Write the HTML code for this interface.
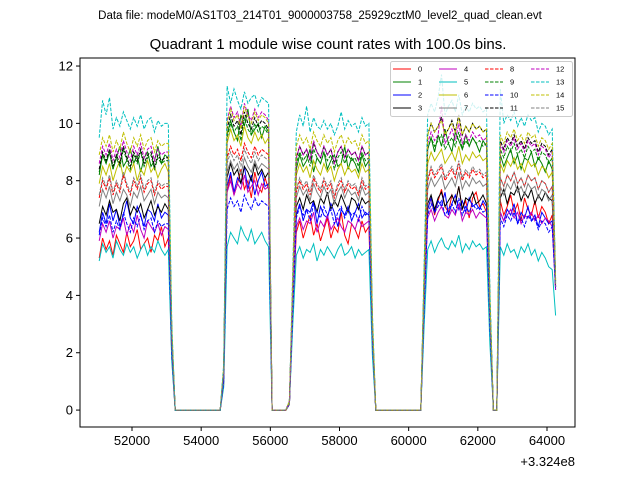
<!DOCTYPE html>
<html><head><meta charset="utf-8"><style>
body{margin:0;background:#fff;}
svg{display:block;font-family:"Liberation Sans","DejaVu Sans",sans-serif;}
</style></head><body>
<svg id="chart" width="640" height="480" xmlns="http://www.w3.org/2000/svg">
<text x="320" y="19" font-size="11.5" text-anchor="middle">Data file: modeM0/AS1T03_214T01_9000003758_25929cztM0_level2_quad_clean.evt</text>
<text x="328" y="49" font-size="15" text-anchor="middle">Quadrant 1 module wise count rates with 100.0s bins.</text>
<g id="plot"></g>
<text x="575" y="466" font-size="13" text-anchor="end">+3.324e8</text>
</svg>
<script>
const t0 = 51050, dt = 100;
const xTicks = [52000,54000,56000,58000,60000,62000,64000];
const yTicks = [0,2,4,6,8,10,12];
const names = ['0','1','2','3','4','5','6','7','8','9','10','11','12','13','14','15'];
const colors = ['#ff0000','#008000','#0000ff','#000000','#bf00bf','#00bfbf','#bfbf00','#808080','#ff0000','#008000','#0000ff','#000000','#bf00bf','#00bfbf','#bfbf00','#808080'];
const Z14 = [0,0,0,0,0,0,0,0,0,0,0,0,0,0];
const s0 = [5.3,6.0,5.6,5.9,5.4,6.1,5.8,5.5,6.2,5.7,5.9,6.3,5.6,5.8,6.0,5.5,6.1,5.9,6.4,5.7,6.0,1.8,...Z14,0.9,7.6,8.2,7.5,7.9,8.4,7.7,8.0,7.4,8.3,7.8,7.6,8.1,7.7,0,0,0,0,0,0.2,3.5,6.2,6.6,6.0,6.4,6.8,6.1,6.5,5.9,6.3,6.7,6.0,6.4,6.2,6.9,6.1,5.8,6.5,6.3,6.0,6.6,6.2,6.4,2.2,...Z14,3.8,7.0,7.4,6.8,7.3,7.7,7.1,6.9,7.5,7.2,7.8,7.0,7.3,6.7,7.4,7.6,7.1,7.2,6.9,3.0,0,0,7.3,6.8,7.1,7.5,6.9,7.2,6.6,7.4,7.0,6.8,7.3,6.7,7.1,6.9,6.5,6.8,4.2];
const s1 = [8.2,8.9,8.6,9.0,8.4,8.8,9.2,8.5,8.7,9.1,8.6,8.9,8.3,8.8,9.0,8.5,8.7,9.2,8.6,8.9,8.8,2.6,...Z14,1.4,9.6,10.1,9.7,9.4,10.3,9.9,10.5,9.6,9.8,10.0,9.5,9.9,9.7,0,0,0,0,0,0.3,4.2,8.4,8.9,8.5,8.7,9.1,8.3,8.8,8.6,9.0,8.4,8.7,8.9,8.5,8.6,9.2,8.4,8.8,8.6,8.3,8.9,8.5,8.7,2.9,...Z14,4.6,9.1,9.5,9.0,9.6,9.2,9.8,9.3,9.0,9.7,9.4,9.1,9.6,9.2,9.5,9.3,9.0,9.4,9.2,3.6,0,0,8.9,8.5,8.8,9.1,8.6,8.9,8.4,8.8,8.7,9.0,8.5,8.8,8.6,8.3,8.7,8.4,4.4];
const s2 = [6.2,6.9,6.5,7.2,6.6,7.0,6.4,6.8,7.3,6.7,6.5,7.1,6.8,6.4,7.0,6.9,6.6,7.2,6.7,6.9,6.8,2.1,...Z14,1.1,7.8,8.3,7.6,8.1,7.9,8.5,7.7,8.2,7.5,8.0,8.3,7.8,7.9,0,0,0,0,0,0.2,3.6,6.8,7.2,6.6,7.0,6.9,7.3,6.5,7.1,6.8,6.7,7.2,6.9,6.4,7.0,6.8,7.1,6.6,6.9,7.2,6.7,6.9,6.8,2.4,...Z14,3.9,7.0,7.4,6.9,7.3,7.1,7.6,6.8,7.2,7.5,7.0,7.3,6.9,7.4,7.1,7.2,7.0,7.3,7.1,3.0,0,0,6.9,6.6,7.0,6.8,7.2,6.5,6.9,6.7,7.1,6.6,6.8,6.4,6.9,6.7,6.5,6.6,4.3];
const s3 = [6.5,7.1,6.8,7.3,6.9,7.0,6.6,7.2,7.4,6.8,7.1,6.9,7.2,6.7,7.0,7.3,6.8,7.1,6.9,7.2,7.0,2.2,...Z14,1.2,8.1,8.6,8.2,8.4,7.9,8.5,8.3,8.0,8.6,8.2,8.4,8.1,8.3,0,0,0,0,0,0.2,3.8,7.1,7.4,7.0,7.5,7.2,7.3,6.9,7.4,7.2,7.6,7.0,7.3,7.1,7.5,7.2,6.9,7.4,7.3,7.0,7.4,7.2,7.3,2.5,...Z14,3.9,7.2,7.5,7.0,7.4,7.6,7.1,7.3,7.5,7.2,7.8,7.0,7.4,7.3,7.6,7.2,7.3,7.5,7.2,3.1,0,0,7.4,7.7,7.2,7.6,7.5,7.8,7.3,7.6,7.4,7.7,7.2,7.5,7.3,7.6,7.4,7.3,4.3];
const s4 = [5.9,6.5,6.2,6.6,6.0,6.4,6.3,6.7,6.1,6.5,6.2,6.8,6.3,6.0,6.6,6.4,6.2,6.5,6.1,6.4,6.3,2.0,...Z14,1.0,7.6,8.0,7.5,7.9,7.7,8.2,7.6,7.8,8.0,7.5,7.9,7.7,7.8,0,0,0,0,0,0.2,3.4,6.4,6.7,6.3,6.6,6.5,6.9,6.2,6.6,6.4,6.8,6.3,6.5,6.7,6.4,6.2,6.6,6.5,6.3,6.7,6.4,6.5,6.6,2.3,...Z14,3.6,6.7,7.0,6.6,6.9,7.1,6.8,6.7,7.0,6.8,7.2,6.6,6.9,6.8,7.0,6.7,6.9,6.8,6.7,2.9,0,0,6.9,6.6,6.8,7.0,6.7,6.9,6.5,6.8,6.7,6.9,6.6,6.8,6.5,6.7,6.6,6.4,4.2];
const s5 = [5.2,5.8,5.5,5.7,5.3,5.9,5.6,5.4,5.8,5.5,5.7,5.3,5.6,5.8,5.4,5.7,5.5,5.9,5.6,5.4,5.6,1.7,...Z14,0.8,5.7,6.2,6.0,5.8,6.4,6.1,5.9,6.3,5.8,6.0,6.2,5.9,5.7,0,0,0,0,0,0.2,3.0,5.4,5.7,5.3,5.6,5.5,5.8,5.2,5.6,5.4,5.7,5.5,5.3,5.6,5.8,5.4,5.5,5.7,5.3,5.6,5.4,5.5,5.6,1.9,...Z14,3.0,5.6,5.9,5.5,5.8,6.0,5.7,5.6,5.9,5.7,6.1,5.5,5.8,5.6,5.9,5.7,5.8,5.6,5.7,2.3,0,0,5.7,5.4,5.8,5.5,5.6,5.3,5.7,5.5,5.8,5.4,5.6,5.2,5.5,5.3,5.0,4.9,3.3];
const s6 = [7.9,8.5,8.2,8.6,8.0,8.4,8.7,8.1,8.5,8.3,8.6,8.0,8.4,8.2,8.7,8.3,8.5,8.1,8.4,8.6,8.3,2.5,...Z14,1.3,9.3,9.8,9.4,9.6,9.2,9.9,9.5,9.3,9.7,9.4,9.6,9.3,9.5,0,0,0,0,0,0.3,4.1,8.2,8.6,8.3,8.5,8.1,8.7,8.4,8.2,8.6,8.3,8.5,8.0,8.4,8.6,8.2,8.5,8.3,8.4,8.1,8.6,8.3,8.4,2.8,...Z14,4.4,8.6,9.0,8.7,8.9,9.1,8.6,8.8,9.0,8.7,9.2,8.6,8.9,8.7,9.0,8.8,8.9,8.7,8.8,3.4,0,0,8.6,8.3,8.7,8.5,8.8,8.4,8.6,8.3,8.7,8.5,8.6,8.2,8.5,8.4,8.1,8.3,4.4];
const s7 = [7.1,7.7,7.4,7.8,7.2,7.6,7.3,7.7,7.5,7.1,7.6,7.4,7.8,7.3,7.5,7.7,7.2,7.6,7.4,7.5,7.4,2.3,...Z14,1.2,8.3,8.7,8.4,8.6,8.2,8.8,8.5,8.3,8.7,8.4,8.6,8.5,8.4,0,0,0,0,0,0.2,3.8,7.4,7.8,7.5,7.7,7.3,7.9,7.6,7.4,7.8,7.5,7.7,7.2,7.6,7.8,7.4,7.7,7.5,7.6,7.3,7.8,7.5,7.6,2.6,...Z14,4.0,7.7,8.1,7.8,8.0,8.2,7.7,7.9,8.1,7.8,8.3,7.7,8.0,7.8,8.1,7.9,8.0,7.8,7.9,3.2,0,0,7.8,7.5,7.9,7.7,8.0,7.6,7.8,7.5,7.9,7.7,7.8,7.4,7.7,7.6,7.3,7.5,4.3];
const s8 = [7.4,8.0,7.7,8.1,7.5,7.9,7.6,8.2,7.8,7.5,8.0,7.7,8.1,7.6,7.9,8.0,7.5,7.9,7.7,7.8,7.8,2.4,...Z14,1.2,8.8,9.2,8.9,9.1,8.7,9.3,9.0,8.8,9.2,8.9,9.1,9.0,8.9,0,0,0,0,0,0.2,3.9,7.6,8.0,7.7,7.9,7.5,8.1,7.8,7.6,8.0,7.7,7.9,7.4,7.8,8.0,7.6,7.9,7.7,7.8,7.5,8.0,7.7,7.8,2.7,...Z14,4.1,8.0,8.4,8.1,8.3,8.5,8.0,8.2,8.4,8.1,8.6,8.0,8.3,8.1,8.4,8.2,8.3,8.1,8.2,3.3,0,0,8.1,7.8,8.2,8.0,8.3,7.9,8.1,7.8,8.2,8.0,8.1,7.7,8.0,7.9,7.6,7.8,4.3];
const s9 = [8.3,8.9,8.6,9.0,8.4,8.8,8.5,9.1,8.7,8.4,8.9,8.6,9.0,8.5,8.8,8.9,8.4,8.8,8.6,8.7,8.7,2.6,...Z14,1.4,9.5,10.0,9.7,9.9,9.4,10.2,9.8,9.6,10.0,9.7,9.9,9.8,9.6,0,0,0,0,0,0.3,4.3,8.6,9.0,8.7,8.9,8.5,9.1,8.8,8.6,9.0,8.7,8.9,8.4,8.8,9.0,8.6,8.9,8.7,8.8,8.5,9.0,8.7,8.8,3.0,...Z14,4.6,9.1,9.5,9.2,9.4,9.6,9.1,9.3,9.5,9.2,9.7,9.1,9.4,9.2,9.5,9.3,9.4,9.2,9.3,3.7,0,0,9.1,8.8,9.2,9.0,9.3,8.9,9.1,8.8,9.2,9.0,9.1,8.7,9.0,8.9,8.6,8.8,4.5];
const s10 = [6.1,6.7,6.4,6.8,6.2,6.6,6.3,6.9,6.5,6.2,6.7,6.4,6.8,6.3,6.6,6.7,6.2,6.6,6.4,6.5,6.5,2.0,...Z14,1.0,7.0,7.4,7.1,7.3,6.9,7.5,7.2,7.0,7.4,7.1,7.3,7.2,7.1,0,0,0,0,0,0.2,3.5,6.7,7.1,6.8,7.0,6.6,7.2,6.9,6.7,7.1,6.8,7.0,6.5,6.9,7.1,6.7,7.0,6.8,6.9,6.6,7.1,6.8,6.9,2.4,...Z14,3.6,6.8,7.2,6.9,7.1,7.3,6.8,7.0,7.2,6.9,7.4,6.8,7.1,6.9,7.2,7.0,7.1,6.9,7.0,2.9,0,0,6.7,6.4,6.8,6.6,6.9,6.5,6.7,6.4,6.8,6.6,6.7,6.3,6.6,6.5,6.2,6.4,4.2];
const s11 = [8.4,9.0,8.7,9.1,8.5,8.9,8.6,9.2,8.8,8.5,9.0,8.7,9.1,8.6,8.9,9.0,8.5,8.9,8.7,8.8,8.8,2.7,...Z14,1.4,9.8,10.3,9.9,10.1,9.6,10.4,10.0,9.8,10.2,9.9,10.1,10.0,9.8,0,0,0,0,0,0.3,4.4,8.8,9.2,8.9,9.1,8.7,9.3,9.0,8.8,9.2,8.9,9.1,8.6,9.0,9.2,8.8,9.1,8.9,9.0,8.7,9.2,8.9,9.0,3.0,...Z14,4.8,9.6,10.0,9.7,9.9,10.2,9.6,9.8,10.1,9.7,10.3,9.6,9.9,9.7,10.0,9.8,9.9,9.7,9.8,3.9,0,0,9.4,9.1,9.5,9.3,9.6,9.2,9.4,9.1,9.5,9.3,9.4,9.0,9.3,9.2,8.9,9.1,4.5];
const s12 = [8.6,9.2,8.9,9.3,8.7,9.1,8.8,9.4,9.0,8.7,9.2,8.9,9.3,8.8,9.1,9.2,8.7,9.1,8.9,9.0,9.0,2.7,...Z14,1.4,10.1,10.6,10.2,10.4,9.9,10.7,10.3,10.1,10.5,10.2,10.4,10.3,10.1,0,0,0,0,0,0.3,4.5,8.8,9.2,8.9,9.1,8.7,9.4,9.0,8.8,9.2,8.9,9.1,8.6,9.0,9.2,8.8,9.1,8.9,9.0,8.7,9.2,8.9,9.0,3.1,...Z14,4.7,9.3,9.7,9.4,9.6,10.6,9.3,9.5,9.8,9.4,10.0,9.3,9.6,9.4,9.7,9.5,9.6,9.4,9.5,3.8,0,0,9.3,9.0,9.4,9.2,9.5,9.1,9.3,9.0,9.4,9.2,9.3,8.9,9.2,9.1,8.8,9.0,4.5];
const s13 = [9.5,10.8,10.3,10.9,9.8,10.2,9.9,10.4,10.1,9.8,10.2,9.9,10.3,9.8,10.1,10.2,9.7,10.1,9.9,10.0,10.0,3.0,...Z14,1.6,11.3,10.7,11.2,10.8,10.5,11.1,10.7,10.9,11.0,10.6,10.9,10.8,10.7,0,0,0,0,0,0.3,5.0,9.7,10.3,9.9,10.6,9.7,10.2,9.9,9.8,10.1,9.8,10.0,9.6,9.9,10.4,9.8,10.1,9.9,10.0,9.7,10.2,9.9,10.0,3.4,...Z14,5.2,10.3,10.7,10.4,10.9,11.7,10.3,10.6,10.8,10.4,11.0,10.3,10.6,10.4,10.7,10.5,10.6,10.4,10.5,4.2,0,0,11.2,10.0,10.3,10.1,10.4,9.9,10.2,9.9,10.3,10.1,10.2,9.7,10.0,9.9,9.6,9.8,4.6];
const s14 = [8.9,9.5,9.2,9.6,9.0,9.4,9.1,9.7,9.3,9.0,9.5,9.2,9.6,9.1,9.4,9.5,9.0,9.4,9.2,9.3,9.3,2.8,...Z14,1.5,10.0,10.5,10.1,10.3,9.8,10.6,10.2,10.0,10.4,10.1,10.3,10.2,10.0,0,0,0,0,0,0.3,4.6,9.2,9.6,9.3,9.5,9.1,9.7,9.4,9.2,9.6,9.3,9.5,9.0,9.4,9.6,9.2,9.5,9.3,9.4,9.1,9.6,9.3,9.4,3.2,...Z14,4.9,9.6,10.0,9.7,9.9,10.1,9.6,9.8,10.0,9.7,10.2,9.6,9.9,9.7,10.0,9.8,9.9,9.7,9.8,3.9,0,0,9.6,9.3,9.7,9.5,9.8,9.4,9.6,9.3,9.7,9.5,9.6,9.2,9.5,9.4,9.1,9.3,4.5];
const s15 = [7.5,8.1,7.8,8.2,7.6,8.0,7.7,8.3,7.9,7.6,8.1,7.8,8.2,7.7,8.0,8.1,7.6,8.0,7.8,7.9,7.9,2.4,...Z14,1.3,8.6,9.0,8.7,8.9,8.5,9.1,8.8,8.6,9.0,8.7,8.9,8.8,8.7,0,0,0,0,0,0.2,3.9,7.7,8.1,7.8,8.0,7.6,8.2,7.9,7.7,8.1,7.8,8.0,7.5,7.9,8.1,7.7,8.0,7.8,7.9,7.6,8.1,7.8,7.9,2.7,...Z14,4.1,8.1,8.5,8.2,8.4,8.6,8.1,8.3,8.5,8.2,8.7,8.1,8.4,8.2,8.5,8.3,8.4,8.2,8.3,3.3,0,0,8.1,7.8,8.2,8.0,8.3,7.9,8.1,7.8,8.2,8.0,8.1,7.7,8.0,7.9,7.6,7.8,4.3];
const series = [s0,s1,s2,s3,s4,s5,s6,s7,s8,s9,s10,s11,s12,s13,s14,s15];

const NS = 'http://www.w3.org/2000/svg';
const L = 80, R = 575, T = 58, B = 427;
const xMin = 50496, xMax = 64810, yMin = -0.59, yMax = 12.28;
const xs = v => L + (v - xMin) / (xMax - xMin) * (R - L);
const ys = v => B - (v - yMin) / (yMax - yMin) * (B - T);
const plot = document.getElementById('plot');
function mk(tag, attrs, parent) {
  const e = document.createElementNS(NS, tag);
  for (const k in attrs) e.setAttribute(k, attrs[k]);
  (parent || plot).appendChild(e);
  return e;
}
series.forEach((vals, si) => {
  const pts = vals.map((v, i) => xs(t0 + i * dt).toFixed(1) + ',' + ys(v).toFixed(1)).join(' ');
  const pl = mk('polyline', {points: pts, fill: 'none', stroke: colors[si], 'stroke-width': 1, 'stroke-dasharray': si >= 8 ? '3.5,1.5' : 'none'});
  
  
});
const fr = mk('rect', {x: L, y: T, width: R - L, height: B - T, fill: 'none', stroke: '#000', 'stroke-width': 1});


xTicks.forEach(v => {
  const x = xs(v);
  const tk = mk('line', {x1: x, x2: x, y1: B, y2: B + 4, stroke: '#000'});
  
  
  const tx = mk('text', {x: x, y: B + 18, 'font-size': 13, 'text-anchor': 'middle'});
  tx.textContent = String(v);
  
  
});
yTicks.forEach(v => {
  const y = ys(v);
  const tk = mk('line', {x1: L - 4, x2: L, y1: y, y2: y, stroke: '#000'});
  
  
  const tx = mk('text', {x: L - 7, y: y + 4.5, 'font-size': 13, 'text-anchor': 'end'});
  tx.textContent = String(v);
  
  
});
const lg = mk('g', {});


mk('rect', {x: 390.5, y: 61.5, width: 182, height: 55, rx: 2, fill: '#fff', 'fill-opacity': 0.8, stroke: '#ccc'}, lg);
const colX = [393, 439, 485, 531];
const rowY = [69, 82, 95, 108];
names.forEach((n, si) => {
  const c = Math.floor(si / 4), r = si % 4;
  const g = mk('g', {}, lg);
  
  
  mk('line', {x1: colX[c], x2: colX[c] + 18, y1: rowY[r], y2: rowY[r], stroke: colors[si], 'stroke-width': 1, 'stroke-dasharray': si >= 8 ? '3.5,1.5' : 'none'}, g);
  const tx = mk('text', {x: colX[c] + 25, y: rowY[r] + 2.5, 'font-size': 7.5}, g);
  tx.textContent = n;
});
</script>
</body></html>
